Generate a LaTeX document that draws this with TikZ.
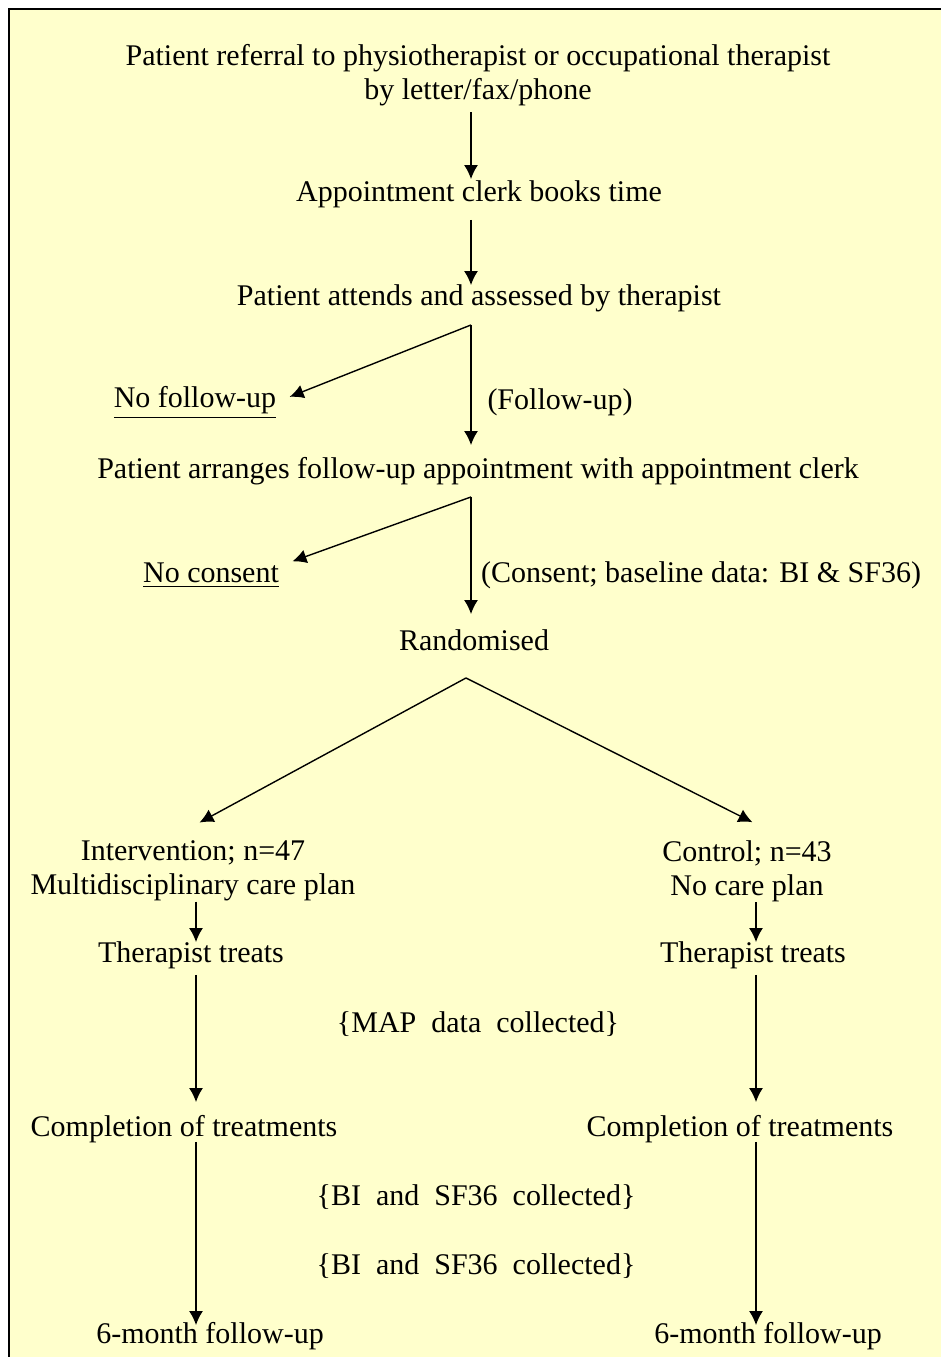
\documentclass[tikz,border=0pt]{standalone}
\usepackage{fontspec}
\setmainfont{Liberation Serif}
\usetikzlibrary{arrows.meta}
\definecolor{paleyellow}{RGB}{255,255,204}

\begin{document}
\begin{tikzpicture}[x=0.5pt, y=-0.5pt]
  \tikzset{every node/.style={font=\fontsize{15}{17}\selectfont, align=center,
      inner sep=0pt, text height=1.8ex, text depth=0.5ex},
    twoline/.style={text height={}, text depth={}},
    arr/.style={-{Latex[length=7pt,width=7pt]}, line width=0.7pt}}
  \useasboundingbox (0,0) rectangle (941,1357);
  \fill[white] (0,0) rectangle (941,1357);
  \fill[paleyellow] (9,9) rectangle (941,1357);
  \draw[line width=1.25pt] (9,1357) -- (9,9) -- (941,9);
  % columns for the arrows
  \coordinate (spine) at (471,0);
  \coordinate (colL) at (196,0);
  \coordinate (colR) at (756,0);
  % top part
  \node[twoline] (referral) at (478,75) {Patient referral to physiotherapist or occupational therapist\\by letter/fax/phone};
  \node (clerk) at (479,196) {Appointment clerk books time};
  \node (attends) at (479,300) {Patient attends and assessed by therapist};
  \node (nofollow) at (195,402) {\underline{No follow-up}};
  \node (followlab) at (560,404) {(Follow-up)};
  \node (arranges) at (478,473) {Patient arranges follow-up appointment with appointment clerk};
  \node (noconsent) at (211,577) {\underline{No consent}};
  \node (consentlab) at (701,577) {(Consent; baseline data: BI \& SF36)};
  \node (random) at (474,645) {Randomised};
  % two arms
  \node[twoline] (interv) at (193,871) {Intervention; n=47\\Multidisciplinary care plan};
  \node[twoline] (control) at (747,871) {Control; n=43\\No care plan};
  \node (treatL) at (191,957) {Therapist treats};
  \node (treatR) at (753,957) {Therapist treats};
  \node (mapdata) at (478,1027) {\{MAP\ \ data\ \ collected\}};
  \node (complL) at (184,1131) {Completion of treatments};
  \node (complR) at (740,1131) {Completion of treatments};
  \node (bisf1) at (476,1200) {\{BI\ \ and\ \ SF36\ \ collected\}};
  \node (bisf2) at (476,1269) {\{BI\ \ and\ \ SF36\ \ collected\}};
  \node (sixL) at (210,1338) {6-month follow-up};
  \node (sixR) at (768,1338) {6-month follow-up};
  % split points
  \coordinate (split1) at ([yshift=-7pt]attends.south -| spine);
  \coordinate (split2) at ([yshift=-6.5pt]arranges.south -| spine);
  \coordinate (peak) at ([shift={(-4pt,-11pt)}]random.south);
  % connectors
  \draw[arr, shorten <=3pt, shorten >=3pt] (referral.south -| spine) -- (clerk.north -| spine);
  \draw[arr, shorten <=6.5pt, shorten >=2pt] (clerk.south -| spine) -- (attends.north -| spine);
  \draw[arr, shorten >=8.5pt] (split1) -- (arranges.north -| spine);
  \draw[arr, shorten >=7pt] (split1) -- (nofollow.east);
  \draw[arr, shorten >=10pt] (split2) -- (random.north -| spine);
  \draw[arr, shorten >=7pt] (split2) -- (noconsent.north east);
  \draw[arr, shorten >=2pt] (peak) -- ([yshift=8pt]interv.north -| colL);
  \draw[arr, shorten >=2pt] (peak) -- ([yshift=8pt]control.north -| colR);
  \draw[arr, shorten >=2pt] (interv.south -| colL) -- (treatL.north -| colL);
  \draw[arr, shorten >=2pt] (control.south -| colR) -- (treatR.north -| colR);
  \draw[arr, shorten <=3.5pt, shorten >=9pt] (treatL.south -| colL) -- (complL.north -| colL);
  \draw[arr, shorten <=3.5pt, shorten >=9pt] (treatR.south -| colR) -- (complR.north -| colR);
  \draw[arr, shorten >=1pt] (complL.south -| colL) -- (sixL.north -| colL);
  \draw[arr, shorten >=1pt] (complR.south -| colR) -- (sixR.north -| colR);
\end{tikzpicture}
\end{document}
